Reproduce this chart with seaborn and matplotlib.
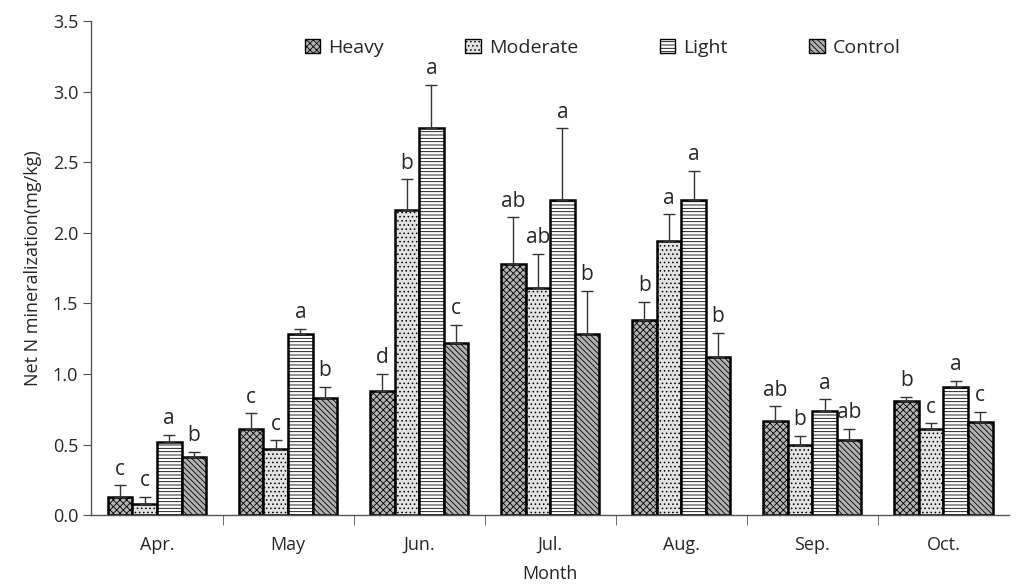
import seaborn as sns
import pandas as pd
import matplotlib
matplotlib.use("Agg")
import matplotlib.pyplot as plt
from matplotlib.patches import Patch
import numpy as np

# data
months = ["Apr.", "May", "Jun.", "Jul.", "Aug.", "Sep.", "Oct."]
treatments = ["Heavy", "Moderate", "Light", "Control"]

heavy = [0.13, 0.61, 0.88, 1.78, 1.38, 0.67, 0.81]
moderate = [0.08, 0.47, 2.16, 1.61, 1.94, 0.50, 0.61]
light = [0.52, 1.28, 2.74, 2.23, 2.23, 0.74, 0.91]
control = [0.41, 0.83, 1.22, 1.28, 1.12, 0.53, 0.66]

heavy_err = [0.08, 0.11, 0.12, 0.33, 0.13, 0.10, 0.03]
moderate_err = [0.05, 0.06, 0.22, 0.24, 0.19, 0.06, 0.04]
light_err = [0.05, 0.04, 0.31, 0.51, 0.21, 0.08, 0.04]
control_err = [0.04, 0.08, 0.13, 0.31, 0.17, 0.08, 0.07]

heavy_lab = ["c", "c", "d", "ab", "b", "ab", "b"]
moderate_lab = ["c", "c", "b", "ab", "a", "b", "c"]
light_lab = ["a", "a", "a", "a", "a", "a", "a"]
control_lab = ["b", "b", "c", "b", "b", "ab", "c"]

values = [heavy, moderate, light, control]
errors = [heavy_err, moderate_err, light_err, control_err]
labels = [heavy_lab, moderate_lab, light_lab, control_lab]

rows = []
for t, vals in zip(treatments, values):
    for m, v in zip(months, vals):
        rows.append({"Month": m, "Treatment": t, "Value": v})
df = pd.DataFrame(rows)

sns.set_style("ticks")
plt.rcParams['font.family'] = ['Open Sans', 'DejaVu Sans']
plt.rcParams['hatch.linewidth'] = 0.6

colors = ["#b4b4b4", "#e2e2e2", "#ffffff", "#b0b0b0"]
hatches = ["xxxxx", "....", "-----", "\\\\\\\\\\\\"]

fig, ax = plt.subplots(figsize=(10.16, 5.86), dpi=100)
fig.subplots_adjust(left=0.09, right=0.993, top=0.964, bottom=0.121)

sns.barplot(data=df, x="Month", y="Value", hue="Treatment", order=months,
            hue_order=treatments, palette=colors, width=0.75,
            edgecolor="black", linewidth=1.8, errorbar=None, legend=False, ax=ax)

bar_containers = list(ax.containers)
for i, cont in enumerate(bar_containers):
    xs = []
    ys = []
    for p in cont.patches:
        p.set_hatch(hatches[i])
        xs.append(p.get_x() + p.get_width() / 2)
        ys.append(p.get_height())
    xs = np.array(xs)
    ys = np.array(ys)
    err = np.array(errors[i])
    ax.errorbar(xs, ys, yerr=[np.zeros_like(err), err], fmt="none",
                ecolor="#333333", elinewidth=1, capsize=4, capthick=1, zorder=1)
    for x, top, lab in zip(xs, ys + err, labels[i]):
        ax.text(x, top + 0.04, lab, ha="center", va="bottom", fontsize=15)

ax.set_ylim(0, 3.5)
ax.set_yticks(np.arange(0, 3.51, 0.5))
ax.set_yticklabels([f"{v:.1f}" for v in np.arange(0, 3.51, 0.5)])
ax.set_xlim(-0.5, len(months) - 0.5)
ax.set_xticks(range(len(months)))
ax.set_xticklabels(months)
ax.tick_params(axis="x", length=0, labelsize=13, pad=15)
ax.set_xticks(np.arange(0.5, len(months) - 0.5, 1), minor=True)
ax.tick_params(axis="x", which="minor", length=7, color="#555555")
ax.tick_params(axis="y", labelsize=13, length=6, color="#555555")
ax.set_xlabel("Month", fontsize=13, labelpad=8)
ax.set_ylabel("Net N mineralization(mg/kg)", fontsize=13, labelpad=8)
sns.despine(ax=ax)
for s in ["left", "bottom"]:
    ax.spines[s].set_color("#555555")
    ax.spines[s].set_linewidth(1)

handles = [Patch(facecolor=c, edgecolor="black", hatch=h, linewidth=1, label=t)
           for c, h, t in zip(colors, hatches, treatments)]
ax.legend(handles=handles, loc="upper center", bbox_to_anchor=(0.557, 1.0), ncol=4,
          frameon=False, fontsize=14, handlelength=0.8, handleheight=0.8,
          handletextpad=0.4, columnspacing=4.2)

fig.savefig("out.png", dpi=100)
